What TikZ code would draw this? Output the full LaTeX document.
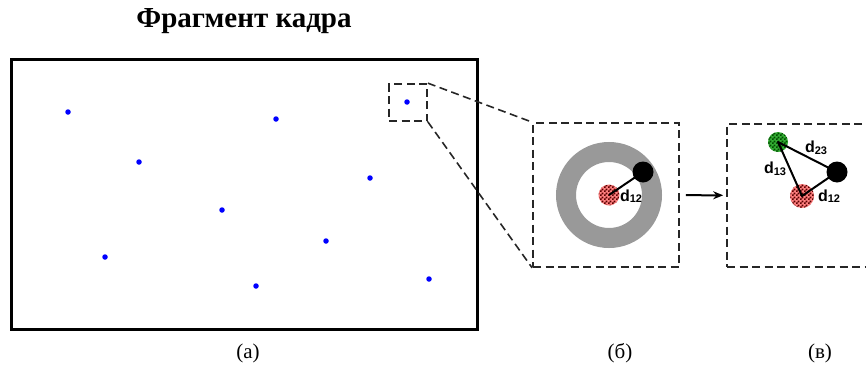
\documentclass[tikz,border=0pt]{standalone}
\usepackage{fontspec}
\setmainfont{Liberation Serif}
\newfontfamily\lblfont{Liberation Sans}
\usetikzlibrary{arrows.meta,patterns}
\pgfdeclarepatternformonly{finecheck}{\pgfpointorigin}{\pgfpoint{4pt}{4pt}}{\pgfpoint{4pt}{4pt}}{%
  \pgfpathrectangle{\pgfpointorigin}{\pgfpoint{2pt}{2pt}}%
  \pgfpathrectangle{\pgfpoint{2pt}{2pt}}{\pgfpoint{2pt}{2pt}}%
  \pgfusepath{fill}}
\newcommand{\dlbl}[1]{d\raisebox{-1.5pt}{\fontsize{11}{11}\selectfont #1}}

\begin{document}
\begin{tikzpicture}[x=1pt, y=-1pt,
  spot/.style={circle, fill=blue, inner sep=0pt, minimum size=5.5pt},
  framebox/.style={draw, line width=3pt, inner sep=0pt},
  dashbox/.style={draw, black!85, dash pattern=on 8pt off 4.5pt, line width=1.7pt, inner sep=0pt},
  zoomline/.style={black!85, dash pattern=on 8pt off 4.5pt, line width=1.6pt},
  obj/.style={circle, inner sep=0pt, minimum size=21pt},
  redobj/.style={obj, preaction={fill=red!50}, pattern=finecheck, pattern color=red!35!black},
  greenobj/.style={obj, preaction={fill=green!60!black!80}, pattern=finecheck, pattern color=green!30!black},
  blackobj/.style={obj, fill=black},
  dist/.style={font=\fontsize{16}{16}\selectfont\lblfont\bfseries, inner sep=0pt},
  caption/.style={font=\fontsize{21}{24}\selectfont}]
  \useasboundingbox (0,0) rectangle (866,372);

  \node[font=\fontsize{29}{34}\selectfont\bfseries] (title) at (244,21) {Фрагмент кадра};

  % frame with detected points
  \node[framebox, minimum width=466pt, minimum height=270pt] (shot) at (244.5,194.5) {};
  \foreach \x/\y in {68/112, 276/119, 139/162, 370/178, 222/210, 326/241, 105/257, 256/286, 429/279, 407/102}
    \node[spot] (s-\x) at (\x,\y) {};
  \node[dashbox, minimum width=38pt, minimum height=37pt] (zoom) at (408,102.5) {};

  % panel (b)
  \node[dashbox, minimum width=146pt, minimum height=144pt] (panelb) at (606,195) {};
  \draw[zoomline] (zoom.north east) -- (panelb.north west);
  \draw[zoomline] (zoom.south east) -- (panelb.south west);
  \node[circle, draw=black!40, line width=20pt, minimum size=86pt, inner sep=0pt] (ring) at (609,195) {};
  \node[redobj] (b-r) at (609,195) {};
  \node[blackobj] (b-k) at (643,172) {};
  \draw[line width=2pt] (b-r.center) -- (b-k.center);
  \node[dist] (b-d12) at (631,196) {\dlbl{12}};

  % panel (c)
  \node[dashbox, minimum width=146pt, minimum height=143pt] (panelc) at (800,195.5) {};
  \draw[-{Stealth[length=10pt, width=8pt]}, line width=2pt, shorten <=6pt, shorten >=3pt] (panelb) -- (panelc);
  \node[greenobj, minimum size=20pt] (c-g) at (778,142) {};
  \node[blackobj] (c-k) at (837,172) {};
  \node[redobj, minimum size=24pt] (c-r) at (802,196) {};
  \draw[line width=2pt, line join=round] (c-g.center) -- (c-k.center) -- (c-r.center) -- cycle;
  \node[dist] (c-d23) at (816,148) {\dlbl{23}};
  \node[dist] (c-d13) at (775,169) {\dlbl{13}};
  \node[dist] (c-d12) at (829,196) {\dlbl{12}};

  \node[caption] (cap-a) at (248,353) {(а)};
  \node[caption] (cap-b) at (620,353) {(б)};
  \node[caption] (cap-c) at (820,353) {(в)};
\end{tikzpicture}
\end{document}
